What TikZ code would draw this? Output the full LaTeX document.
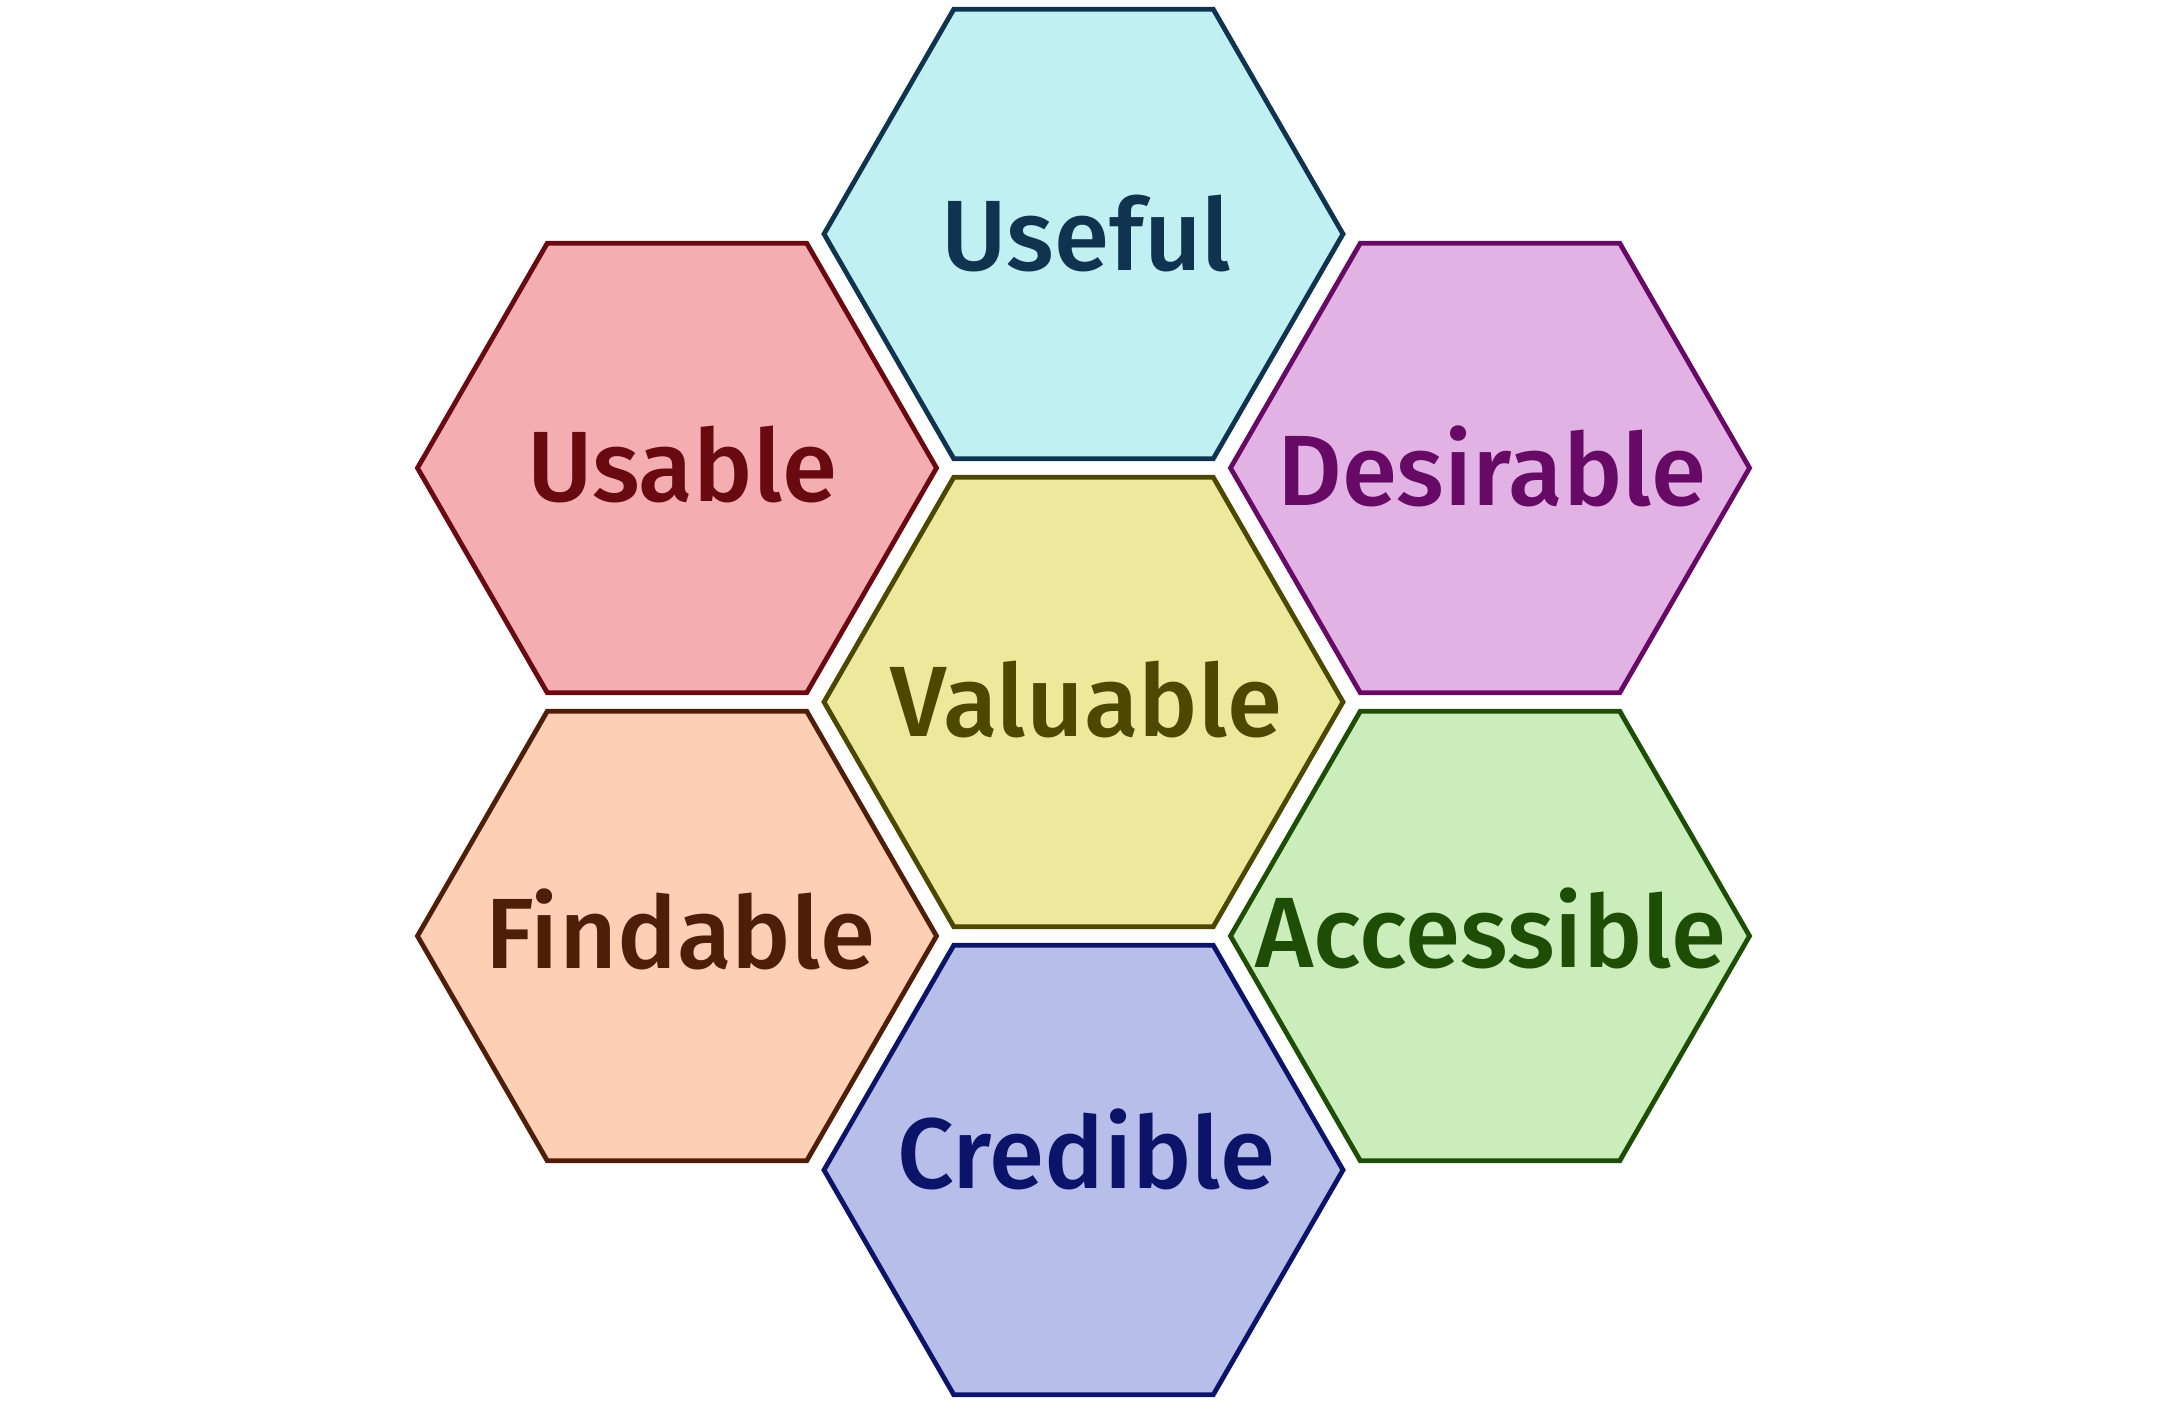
\documentclass[tikz,border=0pt]{standalone}
\usepackage{fontspec}
\setmainfont{Fira Sans}[UprightFont=* Medium]
\usetikzlibrary{shapes.geometric}
\definecolor{usefulF}{HTML}{C1F0F2}\definecolor{usefulD}{HTML}{10334F}
\definecolor{usableF}{HTML}{F4AEB2}\definecolor{usableD}{HTML}{680A10}
\definecolor{desirF}{HTML}{E2B2E4}\definecolor{desirD}{HTML}{660A66}
\definecolor{valF}{HTML}{ECE89C}\definecolor{valD}{HTML}{4C4800}
\definecolor{findF}{HTML}{FDCFB4}\definecolor{findD}{HTML}{4E1E08}
\definecolor{accF}{HTML}{CBEDBB}\definecolor{accD}{HTML}{1E4E06}
\definecolor{credF}{HTML}{B8BEEA}\definecolor{credD}{HTML}{0C146A}
\tikzset{
  hexa/.style 2 args={regular polygon, regular polygon sides=6, minimum size=519pt,
    inner sep=0pt, outer sep=0pt, line width=4.8pt, fill=#1, draw=#2},
  lbl/.style={font=\fontsize{100}{106}\selectfont, text=#1, inner sep=0pt,
    text height=69pt, text depth=0pt, anchor=center}
}
\begin{document}
\begin{tikzpicture}[x=1pt,y=-1pt]
\useasboundingbox (0,0) rectangle (2168,1404);
\node[hexa={usefulF}{usefulD}] (useful) at (1083.5,234) {};
\node[hexa={valF}{valD}] (valuable) at (1083.5,702) {};
\node[hexa={usableF}{usableD}] (usable) at (677,468) {};
\node[hexa={desirF}{desirD}] (desirable) at (1490,468) {};
\node[hexa={findF}{findD}] (findable) at (677,936) {};
\node[hexa={accF}{accD}] (accessible) at (1490,936) {};
\node[hexa={credF}{credD}] (credible) at (1083.5,1170) {};
\node[lbl=usefulD] (usefulT) at ([xshift=3pt,yshift=-2pt]useful.center) {Useful};
\node[lbl=valD] (valuableT) at ([xshift=3pt]valuable.center) {Valuable};
\node[lbl=usableD] (usableT) at ([xshift=5pt,yshift=1pt]usable.center) {Usable};
\node[lbl=desirD] (desirableT) at ([xshift=2pt,yshift=-3pt]desirable.center) {Desirable};
\node[lbl=findD] (findableT) at ([xshift=3pt,yshift=2pt]findable.center) {Findable};
\node[lbl=accD] (accessibleT) at ([xshift=1pt,yshift=3pt]accessible.center) {Accessible};
\node[lbl=credD] (credibleT) at ([xshift=3pt,yshift=16pt]credible.center) {Credible};
\end{tikzpicture}
\end{document}
